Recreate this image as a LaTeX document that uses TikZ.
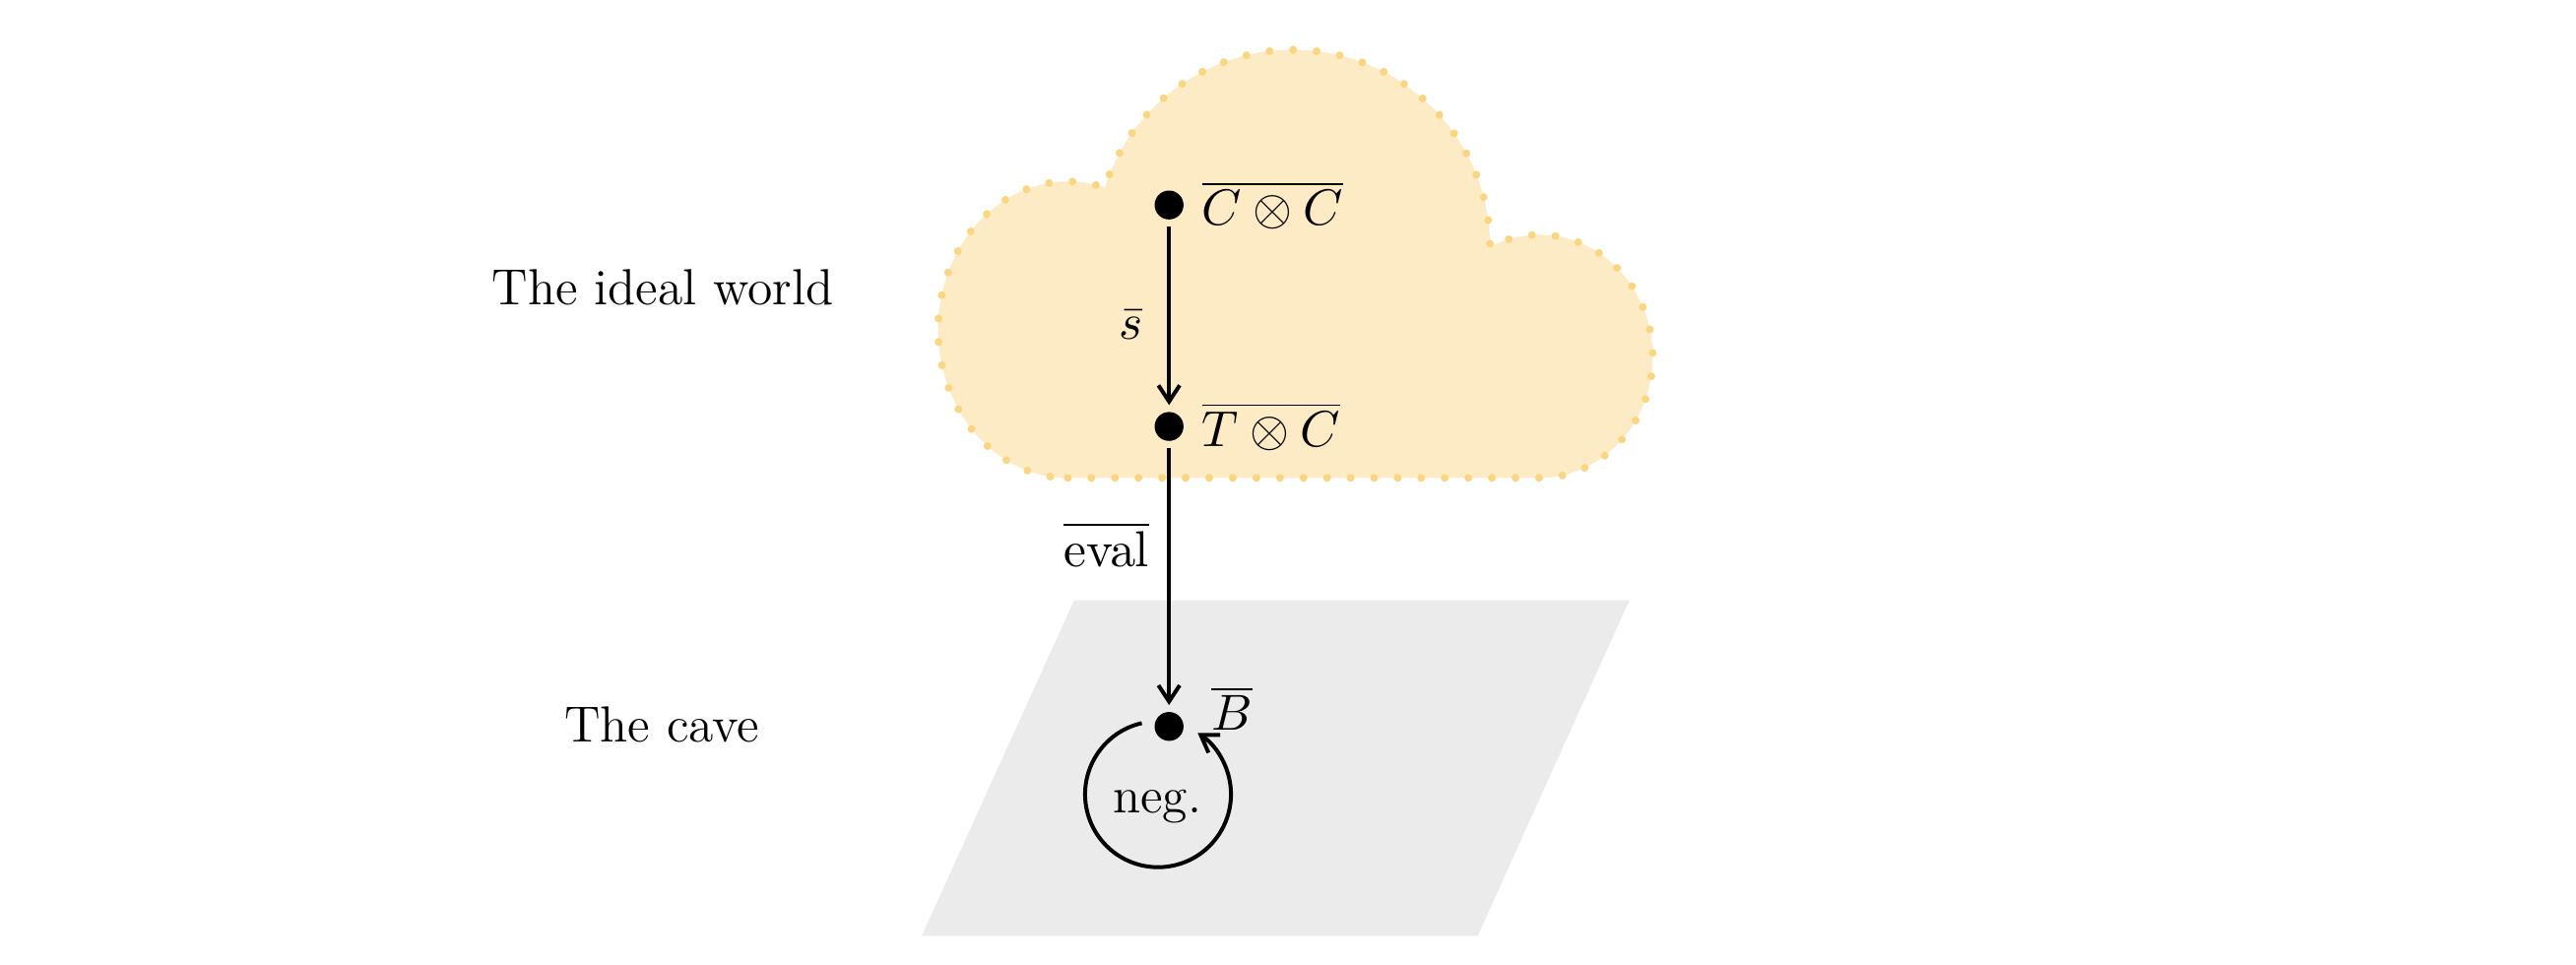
\documentclass[tikz,border=0pt]{standalone}
\usetikzlibrary{arrows.meta}
\definecolor{cloudfill}{RGB}{252,235,196}
\definecolor{clouddots}{RGB}{250,214,128}
\definecolor{cavegray}{RGB}{235,235,235}
\begin{document}
\begin{tikzpicture}[font=\fontsize{11}{13}\selectfont,
    dot/.style={fill=black,shape=circle,inner sep=0pt,minimum size=0.22cm,outer sep=1.5pt},
    arr/.style={-{Straight Barb[length=3.5pt,width=4.6pt]},line width=0.85pt}]
  \useasboundingbox (0,0) rectangle (19.6,7.3425);
  % the ideal world
  \path[fill=cloudfill,draw=clouddots,line width=1.7pt,line cap=round,dash pattern=on 0pt off 5.1pt]
    (8.125,3.706) -- (11.7125,3.706)
    arc[start angle=-90,end angle=115.8,x radius=0.8625,y radius=0.925]
    arc[start angle=0,end angle=162.5,radius=1.5]
    arc[start angle=73.44,end angle=270,x radius=0.9875,y radius=1.128] -- cycle;
  % the cave
  \fill[cavegray] (7.0125,0.221) -- (11.2425,0.221) -- (12.3975,2.775) -- (8.1725,2.775) -- cycle;

  \node[anchor=base] (ideal) at (5.044,5.02) {The ideal world};
  \node[anchor=base] (cave) at (5.0375,1.694) {The cave};

  \node[dot,label={[name=cclab,label distance=-1pt]right:$\overline{C\otimes C}$}] (cc) at (8.895,5.7825) {};
  \node[dot,label={[name=tclab,label distance=-1pt]right:$\overline{T\otimes C}$}] (tc) at (8.895,4.0975) {};
  \node[dot,label={[name=blab,label distance=-1pt,xshift=2pt,yshift=3.9pt]right:$\overline{B}$}] (b) at (8.895,1.815) {};

  \draw[arr] (cc) -- (tc) node[pos=0.55,left,xshift=-2pt,name=slab] {$\bar{s}$};
  \draw[arr] (tc) -- (b) node[pos=0.375,left,xshift=-0.5pt,name=evallab] {$\overline{\mathrm{eval}}$};

  % negation loop
  \coordinate (negc) at (8.811,1.299);
  \draw[arr] (negc) ++(102.9:0.555) arc[start angle=102.9,end angle=417,radius=0.555];
  \node[anchor=base] (neg) at (8.806,1.161) {neg.};
\end{tikzpicture}
\end{document}
